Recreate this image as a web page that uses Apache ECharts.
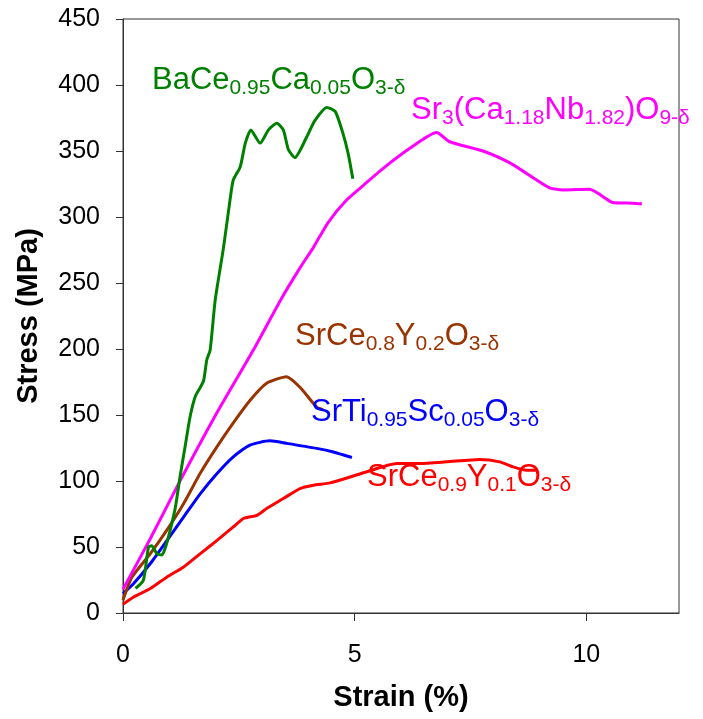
<!DOCTYPE html>
<html>
<head>
<meta charset="utf-8">
<script src="https://cdn.jsdelivr.net/npm/echarts@6/dist/echarts.min.js"></script>
<style>
  html, body { margin: 0; padding: 0; background: #fff; }
  #main { width: 703px; height: 719px; }
</style>
</head>
<body>
<div id="main"></div>
<script>
// tick values
var xTicks = [0, 5, 10];
var yTicks = [0, 50, 100, 150, 200, 250, 300, 350, 400, 450];

// BaCe0.95Ca0.05O3-d  [strain %, stress MPa]
var baCeCa = [
    [0.27, 18.6], [0.44, 24.8], [0.55, 50], [0.62, 51], [0.73, 45], [0.84, 44],
    [0.91, 49], [1.02, 63], [1.13, 80], [1.23, 103], [1.34, 126], [1.45, 149],
    [1.56, 164], [1.67, 171], [1.74, 176], [1.81, 192], [1.88, 199], [1.99, 237],
    [2.17, 277], [2.31, 313], [2.38, 328], [2.53, 338], [2.64, 356], [2.76, 366],
    [2.96, 356], [3.14, 366], [3.32, 371], [3.46, 366], [3.57, 351], [3.71, 345],
    [3.97, 361], [4.14, 373], [4.40, 383], [4.58, 380], [4.75, 363], [4.86, 348],
    [4.96, 329]
];
// Sr3(Ca1.18Nb1.82)O9-d
var srCaNb = [
    [0, 18], [0.6, 57], [1.23, 100], [2.0, 150], [2.81, 199], [3.4, 237],
    [3.83, 262], [4.11, 277], [4.43, 296], [4.83, 313], [5.19, 324], [5.55, 335],
    [6.19, 352], [6.77, 364], [7.05, 357], [7.77, 350], [8.35, 341], [8.71, 333],
    [9.21, 322], [9.5, 320.5], [10.07, 321], [10.25, 318], [10.57, 311],
    [11.0, 310.5], [11.2, 310]
];
// SrCe0.8Y0.2O3-d
var srCeY02 = [
    [0, 9.6], [0.19, 27], [0.59, 45], [0.95, 63], [1.31, 83], [1.67, 106],
    [2.03, 126], [2.38, 144], [2.74, 161], [3.10, 174], [3.53, 179], [3.82, 171],
    [4.18, 156], [4.32, 154]
];
// SrTi0.95Sc0.05O3-d
var srTiSc = [
    [0, 14.7], [0.23, 22.3], [0.59, 37.5], [0.95, 55], [1.31, 72.8], [1.67, 90.5],
    [2.03, 105.7], [2.38, 118.3], [2.74, 127.2], [3.17, 130.4], [3.53, 128.5],
    [4.18, 124.7], [4.54, 122], [4.94, 117.8]
];
// SrCe0.9Y0.1O3-d
var srCeY01 = [
    [0, 6.6], [0.23, 12.1], [0.59, 18.5], [0.95, 27.3], [1.31, 34.9], [1.67, 45],
    [2.03, 55], [2.38, 65.2], [2.60, 71.6], [2.89, 74], [3.10, 79.2], [3.46, 86.7],
    [3.82, 94.3], [4.11, 96.8], [4.47, 98.6], [4.90, 103], [5.26, 107], [5.91, 113.3],
    [6.41, 113.3], [6.98, 114.5], [7.70, 116.3], [8.13, 114.5], [8.42, 110.7],
    [8.71, 108.2], [8.92, 108.2]
];

var chart = echarts.init(document.getElementById('main'));

// rich styles for the formula labels (s = subscript, m lifted by bottom padding)
function richFor(color) {
    return {
        m: { fontSize: 31, fontFamily: 'Liberation Sans', fill: color, lineHeight: 31, verticalAlign: 'bottom', padding: [0, 0, 3, 0] },
        s: { fontSize: 21, fontFamily: 'Liberation Sans', fill: color, lineHeight: 5, verticalAlign: 'bottom' }
    };
}
function label(x, y, text, color) {
    return {
        type: 'text', x: x, y: y, z: 10,
        style: { text: text, rich: richFor(color), fill: color, verticalAlign: 'top', align: 'left' }
    };
}

function line(name, data, color) {
    return {
        name: name, type: 'line', data: data, showSymbol: false, smooth: 0.2,
        lineStyle: { color: color, width: 3 }, itemStyle: { color: color }
    };
}

var option = {
    animation: false,
    grid: { left: 123, top: 19, right: 24, bottom: 106, show: true, borderColor: '#333', borderWidth: 1 },
    xAxis: {
        type: 'value', min: 0, max: 12, interval: 5,
        name: 'Strain (%)', nameLocation: 'middle', nameGap: 70,
        nameTextStyle: { fontSize: 29, fontWeight: 'bold', fontFamily: 'Liberation Sans', color: '#000' },
        axisLine: { lineStyle: { color: '#333' } },
        axisTick: { customValues: xTicks, length: 8, lineStyle: { color: '#333' } },
        axisLabel: { customValues: xTicks, fontSize: 25, fontFamily: 'Liberation Sans', color: '#000', margin: 30 },
        splitLine: { show: false }
    },
    yAxis: {
        type: 'value', min: 0, max: 450, interval: 50,
        name: 'Stress (MPa)', nameLocation: 'middle', nameGap: 80,
        nameTextStyle: { fontSize: 29, fontWeight: 'bold', fontFamily: 'Liberation Sans', color: '#000' },
        axisLine: { show: true, lineStyle: { color: '#333' } },
        axisTick: { show: true, length: 7, lineStyle: { color: '#333' } },
        axisLabel: { fontSize: 25, fontFamily: 'Liberation Sans', color: '#000', margin: 23 },
        splitLine: { show: false }
    },
    series: [
        line('SrCe0.9Y0.1', srCeY01, '#ff0000'),
        line('SrTi0.95Sc0.05', srTiSc, '#0000ff'),
        line('SrCe0.8Y0.2', srCeY02, '#993300'),
        line('Sr3(Ca1.18Nb1.82)O9', srCaNb, '#ff00ff'),
        line('BaCe0.95Ca0.05', baCeCa, '#008000')
    ],
    graphic: [
        label(152, 68, '{m|BaCe}{s|0.95}{m|Ca}{s|0.05}{m|O}{s|3-δ}', '#008000'),
        label(411, 98, '{m|Sr}{s|3}{m|(Ca}{s|1.18}{m|Nb}{s|1.82}{m|)O}{s|9-δ}', '#ff00ff'),
        label(295, 324, '{m|SrCe}{s|0.8}{m|Y}{s|0.2}{m|O}{s|3-δ}', '#993300'),
        label(311, 400, '{m|SrTi}{s|0.95}{m|Sc}{s|0.05}{m|O}{s|3-δ}', '#0000ff'),
        label(367, 465, '{m|SrCe}{s|0.9}{m|Y}{s|0.1}{m|O}{s|3-δ}', '#ff0000')
    ]
};
chart.setOption(option);
</script>
</body>
</html>
